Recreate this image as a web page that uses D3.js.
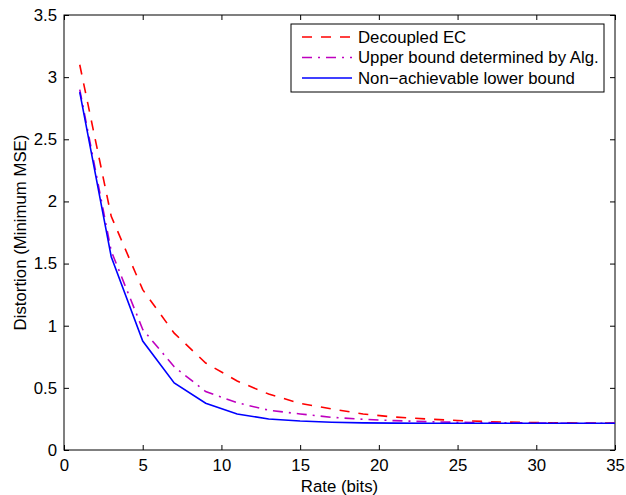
<html>
<head>
<meta charset="utf-8">
<title>Distortion vs rate</title>
<style>
  body { margin: 0; background: #fff; }
  text { font-family: "Liberation Sans", Arial, sans-serif; }
</style>
</head>
<body>
<script src="https://cdn.jsdelivr.net/npm/d3@7"></script>
<script>

// data
var rate      = [1, 3, 5, 7, 9, 11, 13, 15, 17, 19, 21, 23, 25, 27, 29, 31, 33, 35];
var decoupled = [3.10, 1.88, 1.29, 0.94, 0.70, 0.555, 0.45, 0.375, 0.33, 0.29, 0.265, 0.25, 0.237, 0.228, 0.222, 0.219, 0.217, 0.216];
var upper     = [2.90, 1.60, 0.97, 0.67, 0.47, 0.38, 0.32, 0.29, 0.263, 0.247, 0.236, 0.228, 0.223, 0.22, 0.218, 0.216, 0.215, 0.215];
var lower     = [2.88, 1.555, 0.877, 0.54, 0.376, 0.29, 0.249, 0.233, 0.223, 0.218, 0.216, 0.215, 0.215, 0.215, 0.215, 0.215, 0.215, 0.215];

var seriesNames = ["Decoupled EC", "Upper bound determined by Alg.", "Non\u2212achievable lower bound"];
var xTicks = [0, 5, 10, 15, 20, 25, 30, 35];
var yTicks = [0, 0.5, 1, 1.5, 2, 2.5, 3, 3.5];

var width  = 626;
var height = 495;
var margin = { top: 15, right: 11, bottom: 45, left: 64 };
var plotW = width - margin.left - margin.right;
var plotH = height - margin.top - margin.bottom;

var svg = d3.select("body")
			.append("svg")
			.attr("width", width)
			.attr("height", height);

var g = svg.append("g")
			.attr("transform", "translate(" + margin.left + "," + margin.top + ")");

var x = d3.scaleLinear().domain([0, 35]).range([0, plotW]);
var y = d3.scaleLinear().domain([0, 3.5]).range([plotH, 0]);

var fontSize = "16.8px";

// axes, ticks inside like matlab
function styleAxis(sel){
	sel.select(".domain").remove();
	sel.selectAll("line").attr("stroke", "#000");
	sel.selectAll("text").attr("font-size", fontSize).attr("fill", "#000");
}

g.append("g")
	.attr("transform", "translate(0," + plotH + ")")
	.call(d3.axisBottom(x).tickValues(xTicks).tickSizeInner(-5).tickSizeOuter(0).tickPadding(9).tickFormat(d3.format("d")))
	.call(styleAxis);

g.append("g")
	.call(d3.axisTop(x).tickValues(xTicks).tickSizeInner(-5).tickSizeOuter(0).tickFormat(""))
	.call(styleAxis);

g.append("g")
	.call(d3.axisLeft(y).tickValues(yTicks).tickSizeInner(-5).tickSizeOuter(0).tickPadding(7).tickFormat(d3.format("")))
	.call(styleAxis);

g.append("g")
	.attr("transform", "translate(" + plotW + ",0)")
	.call(d3.axisRight(y).tickValues(yTicks).tickSizeInner(-5).tickSizeOuter(0).tickFormat(""))
	.call(styleAxis);

// frame
g.append("rect")
	.attr("x", 0).attr("y", 0)
	.attr("width", plotW).attr("height", plotH)
	.attr("fill", "none")
	.attr("stroke", "#000")
	.attr("stroke-width", 1);

// lines
var series = [
	{ name: seriesNames[0], values: decoupled, color: "#ff0000", dash: "10,9" },
	{ name: seriesNames[1], values: upper,     color: "#bf00bf", dash: "10,6,2,6" },
	{ name: seriesNames[2], values: lower,     color: "#0000ff", dash: null }
];

var line = d3.line()
			.x(function(d){ return x(d[0]); })
			.y(function(d){ return y(d[1]); });

g.selectAll("path.series")
	.data(series)
	.enter()
	.append("path")
	.attr("class", "series")
	.attr("fill", "none")
	.attr("stroke", function(d){ return d.color; })
	.attr("stroke-width", 1.6)
	.attr("stroke-dasharray", function(d){ return d.dash; })
	.attr("d", function(d){
		return line(rate.map(function(r, i){ return [r, d.values[i]]; }));
	});

// axis labels
svg.append("text")
	.attr("x", margin.left + plotW / 2)
	.attr("y", 492)
	.attr("text-anchor", "middle")
	.attr("font-size", fontSize)
	.text("Rate (bits)");

svg.append("text")
	.attr("transform", "translate(26," + (margin.top + plotH / 2) + ") rotate(-90)")
	.attr("text-anchor", "middle")
	.attr("font-size", fontSize)
	.text("Distortion (Minimum MSE)");

// legend
var legend = svg.append("g").attr("transform", "translate(291,24)");

legend.append("rect")
	.attr("width", 313)
	.attr("height", 68)
	.attr("fill", "#fff")
	.attr("stroke", "#000")
	.attr("stroke-width", 1);

var items = legend.selectAll("g.item")
	.data(series)
	.enter()
	.append("g")
	.attr("class", "item")
	.attr("transform", function(d, i){ return "translate(0," + (13 + i * 20.5) + ")"; });

items.append("line")
	.attr("x1", 11).attr("x2", 61)
	.attr("y1", 0).attr("y2", 0)
	.attr("stroke", function(d){ return d.color; })
	.attr("stroke-width", 1.6)
	.attr("stroke-dasharray", function(d){ return d.dash; });

items.append("text")
	.attr("x", 67)
	.attr("y", 0)
	.attr("dy", "0.35em")
	.attr("font-size", fontSize)
	.text(function(d){ return d.name; });

</script>
</body>
</html>
